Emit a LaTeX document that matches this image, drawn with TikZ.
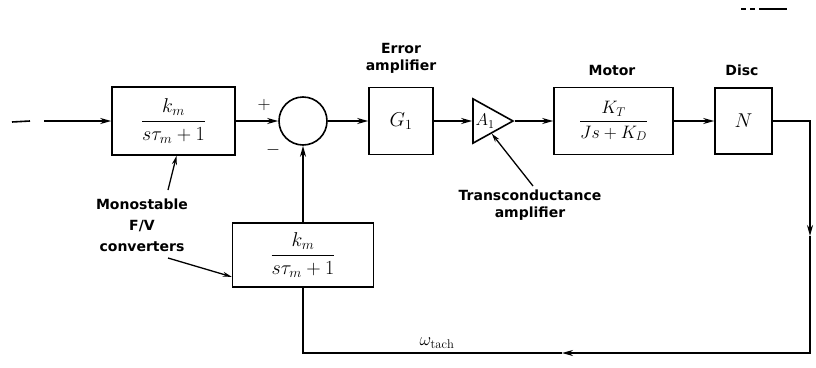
\documentclass[tikz,border=0pt]{standalone}
\usepackage{fix-cm}
\usepackage{amsmath}
\usepackage{fontspec}
\setsansfont{DejaVu Sans}
\usetikzlibrary{arrows.meta,shapes.geometric}
\begin{document}
\begin{tikzpicture}[x=1pt,y=-1pt,line width=1.6pt,
  blk/.style={draw,rectangle,inner sep=0pt},
  lbl/.style={font=\sffamily\bfseries\fontsize{14}{17}\selectfont,align=center,inner sep=0pt},
  mth/.style={font=\fontsize{20}{22}\selectfont},
  arr/.style={-{Stealth[length=11pt,width=6pt]}},
  lead/.style={line width=1.3pt,-{Stealth[length=9pt,width=5pt]}}]
\useasboundingbox (0,0) rectangle (816,367);
% blocks
\node[blk,mth,minimum width=123pt,minimum height=68pt] (box1) at (173.5,121) {$\dfrac{k_m}{s\tau_m + 1}$};
\node[draw,circle,minimum size=48pt,inner sep=0pt] (sum) at (303,121) {};
\node[blk,mth,minimum width=64pt,minimum height=67pt] (g1) at (401,121) {$G_1$};
\node[draw,isosceles triangle,isosceles triangle apex angle=58,minimum height=40pt,inner sep=0.5pt,font=\fontsize{17}{19}\selectfont] (amp) at (485,121) {$A_1$};
\node[blk,font=\fontsize{18}{20}\selectfont,minimum width=119pt,minimum height=67pt] (motor) at (613.5,121) {$\dfrac{K_T}{Js + K_D}$};
\node[blk,mth,minimum width=57pt,minimum height=66pt] (disc) at (743.5,121) {$N$};
\node[blk,mth,minimum width=141pt,minimum height=64pt] (box2) at (303,255) {$\dfrac{k_m}{s\tau_m + 1}$};
% labels
\node[lbl] (lerr) at (401,58) {Error\\amplifier};
\node[lbl] (lmot) at (612,70) {Motor};
\node[lbl] (ldisc) at (742,70) {Disc};
\node[lbl] (ltrans) at (530,205) {Transconductance\\amplifier};
\node[lbl,font=\sffamily\bfseries\fontsize{14}{21}\selectfont] (lmono) at (142,225) {Monostable\\F/V\\converters};
\node[font=\fontsize{18}{20}\selectfont] (plus) at (264,105) {$+$};
\node[font=\fontsize{18}{20}\selectfont] (minus) at (273,150) {$-$};
\node[font=\fontsize{18}{20}\selectfont] (wt) at (437,343) {$\omega_{\mathrm{tach}}$};
% forward path
\coordinate (in0) at (12,122);
\coordinate (in1) at (30,121);
\coordinate (in2) at (44,121);
\draw (in0) -- (in1);
\draw[arr] (in2) -- (box1.west);
\draw[arr] (box1.east) -- (sum.west);
\draw[arr] (sum.east) -- (g1.west);
\draw[arr] (g1.east) -- (amp.west);
\draw[arr] (amp.apex) -- (motor.west);
\draw[arr] (motor.east) -- (disc.west);
% feedback
\coordinate (c1) at (810,121);
\coordinate (m1) at (810,236);
\coordinate (c2) at (810,353);
\coordinate (m2) at (562,353);
\coordinate (c3) at (303,353);
\draw[arr,line join=miter] (disc.east) -- (c1) -- (m1);
\draw[arr,line join=miter] (m1) -- (c2) -- (m2);
\draw[line join=miter] (m2) -- (c3) -- (box2.south);
\draw[arr] (box2.north) -- (sum.south);
% leaders
\coordinate (t1) at (533,186);
\draw[lead] (t1) -- (amp.-62);
\coordinate (mo1) at (168,190);
\draw[lead] (mo1) -- (box1.-85);
\coordinate (co1) at (168,258);
\draw[lead] (co1) -- (box2.-163);
% top-right mark
\coordinate (r0) at (741,9);
\coordinate (r1) at (746,9);
\coordinate (r2) at (750,9);
\coordinate (r3) at (755,9);
\coordinate (r4) at (759,9);
\coordinate (r5) at (787,9);
\draw[line width=1.2pt] (r0) -- (r1) (r2) -- (r3) (r4) -- (r5);
\end{tikzpicture}
\end{document}
